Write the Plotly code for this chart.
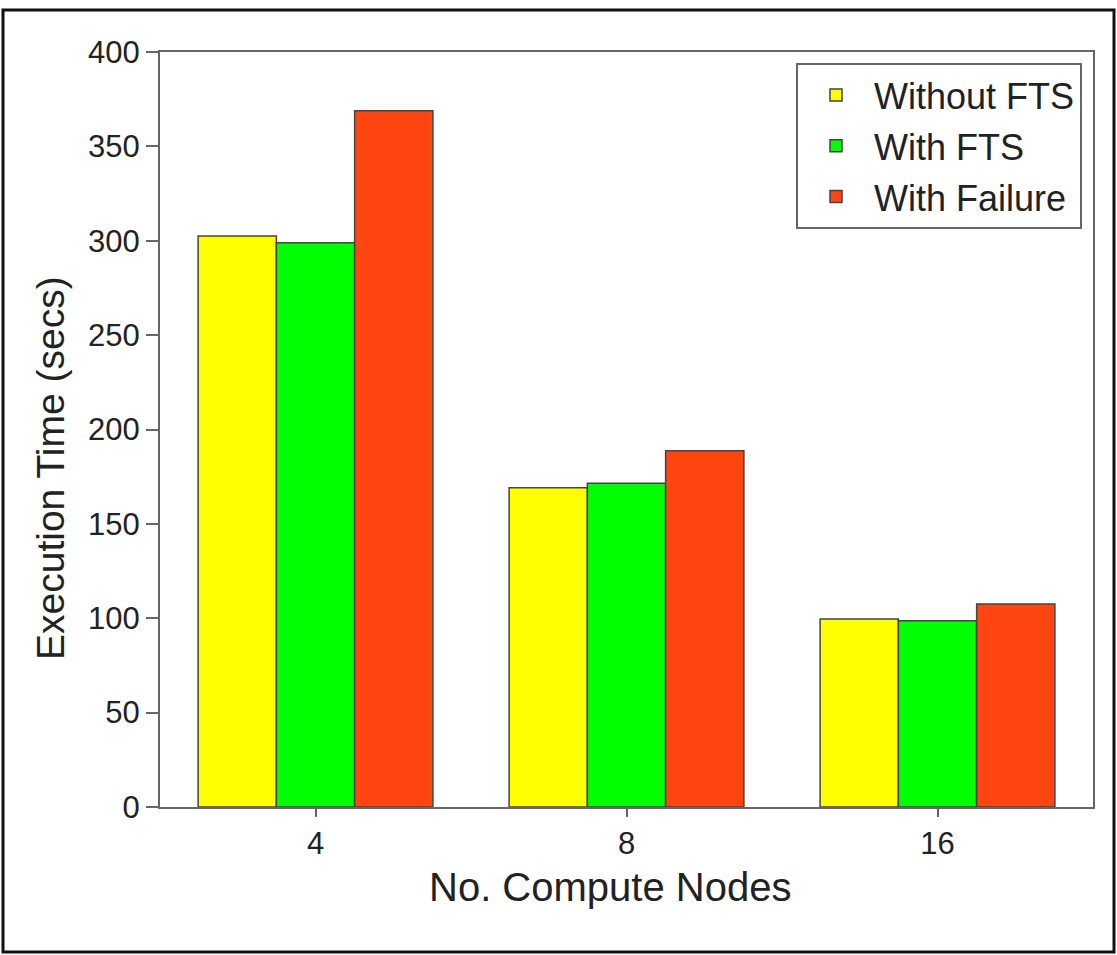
import plotly.graph_objects as go

categories = ["4", "8", "16"]
series_names = ["Without FTS", "With FTS", "With Failure"]
without_fts = [302.5, 169.2, 99.6]
with_fts = [299.0, 171.5, 98.7]
with_failure = [368.9, 188.8, 107.5]
colors = ["#FFFF00", "#00FF00", "#FF4510"]

FONT = "Liberation Sans, Arial, sans-serif"
TXT = "#222222"

# plot-area geometry in page pixels
L, R, T, B = 160, 1093, 52, 807
PW, PH = R - L, B - T

fig = go.Figure()
for i, (name, vals, col) in enumerate(zip(series_names, [without_fts, with_fts, with_failure], colors)):
    fig.add_trace(go.Bar(
        x=categories, y=vals, name=name, legendgroup=f"g{i}",
        marker=dict(color=col, line=dict(color="#444444", width=1.5)),
    ))

def px_x(x):
    return (x - L) / PW

def px_y(y):
    return (B - y) / PH

fig.update_layout(
    width=1117, height=955,
    margin=dict(l=L, r=1117 - R, t=T, b=955 - B),
    paper_bgcolor="white", plot_bgcolor="white",
    barmode="group", bargap=0.245, bargroupgap=0,
    font=dict(family=FONT, color=TXT),
    showlegend=True,
    legend=dict(
        x=px_x(1082), y=px_y(63), xanchor="right", yanchor="top",
        bgcolor="white", bordercolor="#666666", borderwidth=2,
        font=dict(size=36, family=FONT, color=TXT),
        traceorder="grouped", tracegroupgap=1, itemwidth=66,
    ),
    xaxis=dict(
        type="category",
        tickfont=dict(size=31, family=FONT, color=TXT),
        showline=True, linecolor="#666666", linewidth=2, mirror=True,
        ticks="outside", ticklen=8, tickwidth=2, tickcolor="#666666",
        showgrid=False, zeroline=False,
    ),
    yaxis=dict(
        range=[0, 400], dtick=50, tick0=0,
        tickfont=dict(size=31, family=FONT, color=TXT),
        showline=True, linecolor="#666666", linewidth=2, mirror=True,
        ticks="outside", ticklen=12, tickwidth=2, tickcolor="#666666",
        showgrid=False, zeroline=False,
    ),
    annotations=[
        dict(text="No. Compute Nodes", xref="paper", yref="paper",
             x=px_x(610), y=px_y(887), xanchor="center", yanchor="middle",
             showarrow=False, font=dict(size=40, family=FONT, color=TXT)),
        dict(text="Execution Time (secs)", xref="paper", yref="paper",
             x=px_x(50), y=px_y(468), xanchor="center", yanchor="middle",
             textangle=-90, showarrow=False, font=dict(size=39, family=FONT, color=TXT)),
    ],
    shapes=[dict(
        type="rect", xref="paper", yref="paper",
        x0=px_x(3), x1=px_x(1114), y0=px_y(952), y1=px_y(10),
        line=dict(color="#111111", width=3), fillcolor="rgba(0,0,0,0)", layer="above",
    )],
)

fig.write_html(
    "out.html",
    config={"displayModeBar": False},
    post_script="document.body.style.margin='0';document.body.style.padding='0';",
)
